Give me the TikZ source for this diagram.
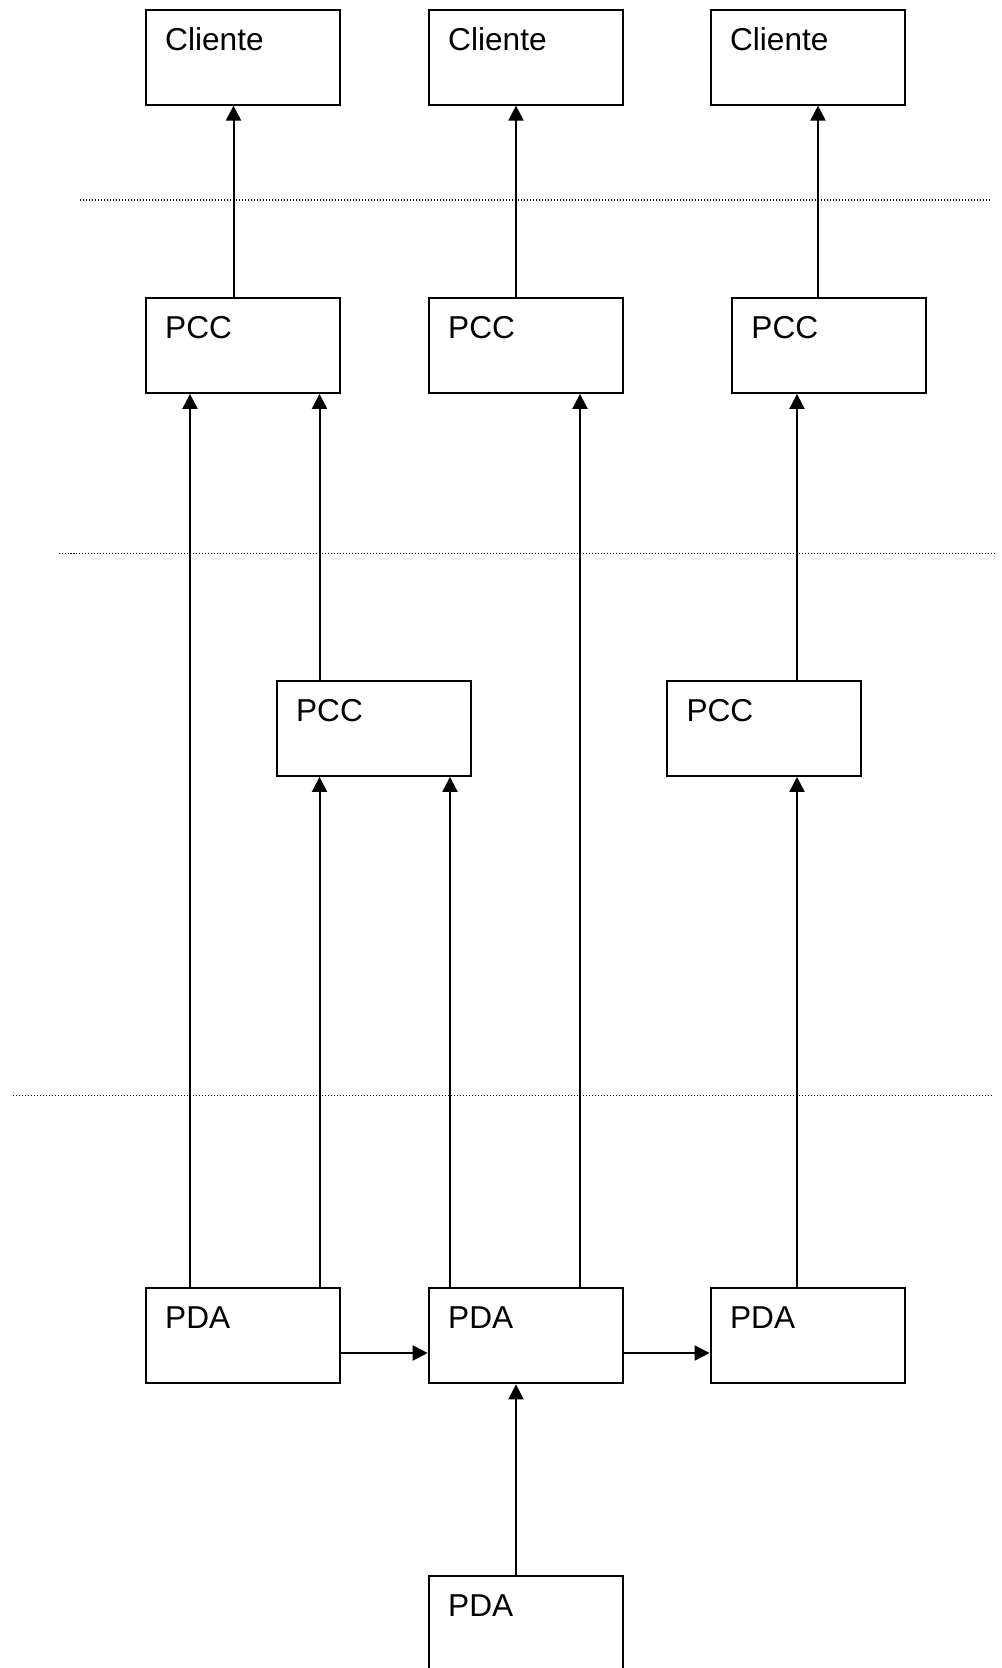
\documentclass[tikz,border=0pt]{standalone}
\usepackage{fontspec}
\setmainfont{Liberation Sans}
\usetikzlibrary{arrows.meta}

\begin{document}
\begin{tikzpicture}[
  box/.style={draw=black,line width=0.04cm,anchor=north west,inner xsep=0.39cm,inner ysep=0pt,
    text width=3.10cm,align=left,text height=0.81cm,text depth=1.09cm,font=\fontsize{18}{22}\selectfont},
  link/.style={draw=black,line width=0.04cm,-{Triangle[length=0.3cm,width=0.3cm]}},
  sep/.style={draw=black,line width=0.025cm,dash pattern=on 0.02cm off 0.04cm},
]
\useasboundingbox (0,0) rectangle (20.02,-33.36);
\node[box] (cliA) at (2.894,-0.172) {Cliente};
\node[box] (cliB) at (8.554,-0.172) {Cliente};
\node[box] (cliC) at (14.192,-0.172) {Cliente};
\node[box] (pccA) at (2.894,-5.938) {PCC};
\node[box] (pccB) at (8.554,-5.938) {PCC};
\node[box] (pccC) at (14.618,-5.938) {PCC};
\node[box] (pccD) at (5.512,-13.598) {PCC};
\node[box] (pccE) at (13.32,-13.598) {PCC};
\node[box] (pdaA) at (2.894,-25.746) {PDA};
\node[box] (pdaB) at (8.554,-25.746) {PDA};
\node[box] (pdaC) at (14.192,-25.746) {PDA};
\node[box] (pdaD) at (8.554,-31.49) {PDA};
\coordinate (colA) at (4.67,0);
\coordinate (colB) at (10.32,0);
\coordinate (colC) at (16.36,0);
\coordinate (colD) at (3.8,0);
\coordinate (colE) at (6.39,0);
\coordinate (colF) at (9.0,0);
\coordinate (colG) at (11.6,0);
\coordinate (colH) at (15.94,0);
\coordinate (rowA) at (0,-27.06);
\draw[sep] (1.596,-4.0) -- (19.83,-4.0);
\draw[sep] (1.17,-11.066) -- (19.894,-11.066);
\draw[sep] (0.256,-21.914) -- (19.83,-21.914);
\draw[link] (pccA.north -| colA) -- (cliA.south -| colA);
\draw[link] (pccB.north -| colB) -- (cliB.south -| colB);
\draw[link] (pccC.north -| colC) -- (cliC.south -| colC);
\draw[link] (pdaA.north -| colD) -- (pccA.south -| colD);
\draw[link] (pccD.north -| colE) -- (pccA.south -| colE);
\draw[link] (pdaA.north -| colE) -- (pccD.south -| colE);
\draw[link] (pdaB.north -| colF) -- (pccD.south -| colF);
\draw[link] (pdaB.north -| colG) -- (pccB.south -| colG);
\draw[link] (pccE.north -| colH) -- (pccC.south -| colH);
\draw[link] (pdaC.north -| colH) -- (pccE.south -| colH);
\draw[link] (pdaA.east |- rowA) -- (pdaB.west |- rowA);
\draw[link] (pdaB.east |- rowA) -- (pdaC.west |- rowA);
\draw[link] (pdaD.north -| colB) -- (pdaB.south -| colB);
\end{tikzpicture}
\end{document}
